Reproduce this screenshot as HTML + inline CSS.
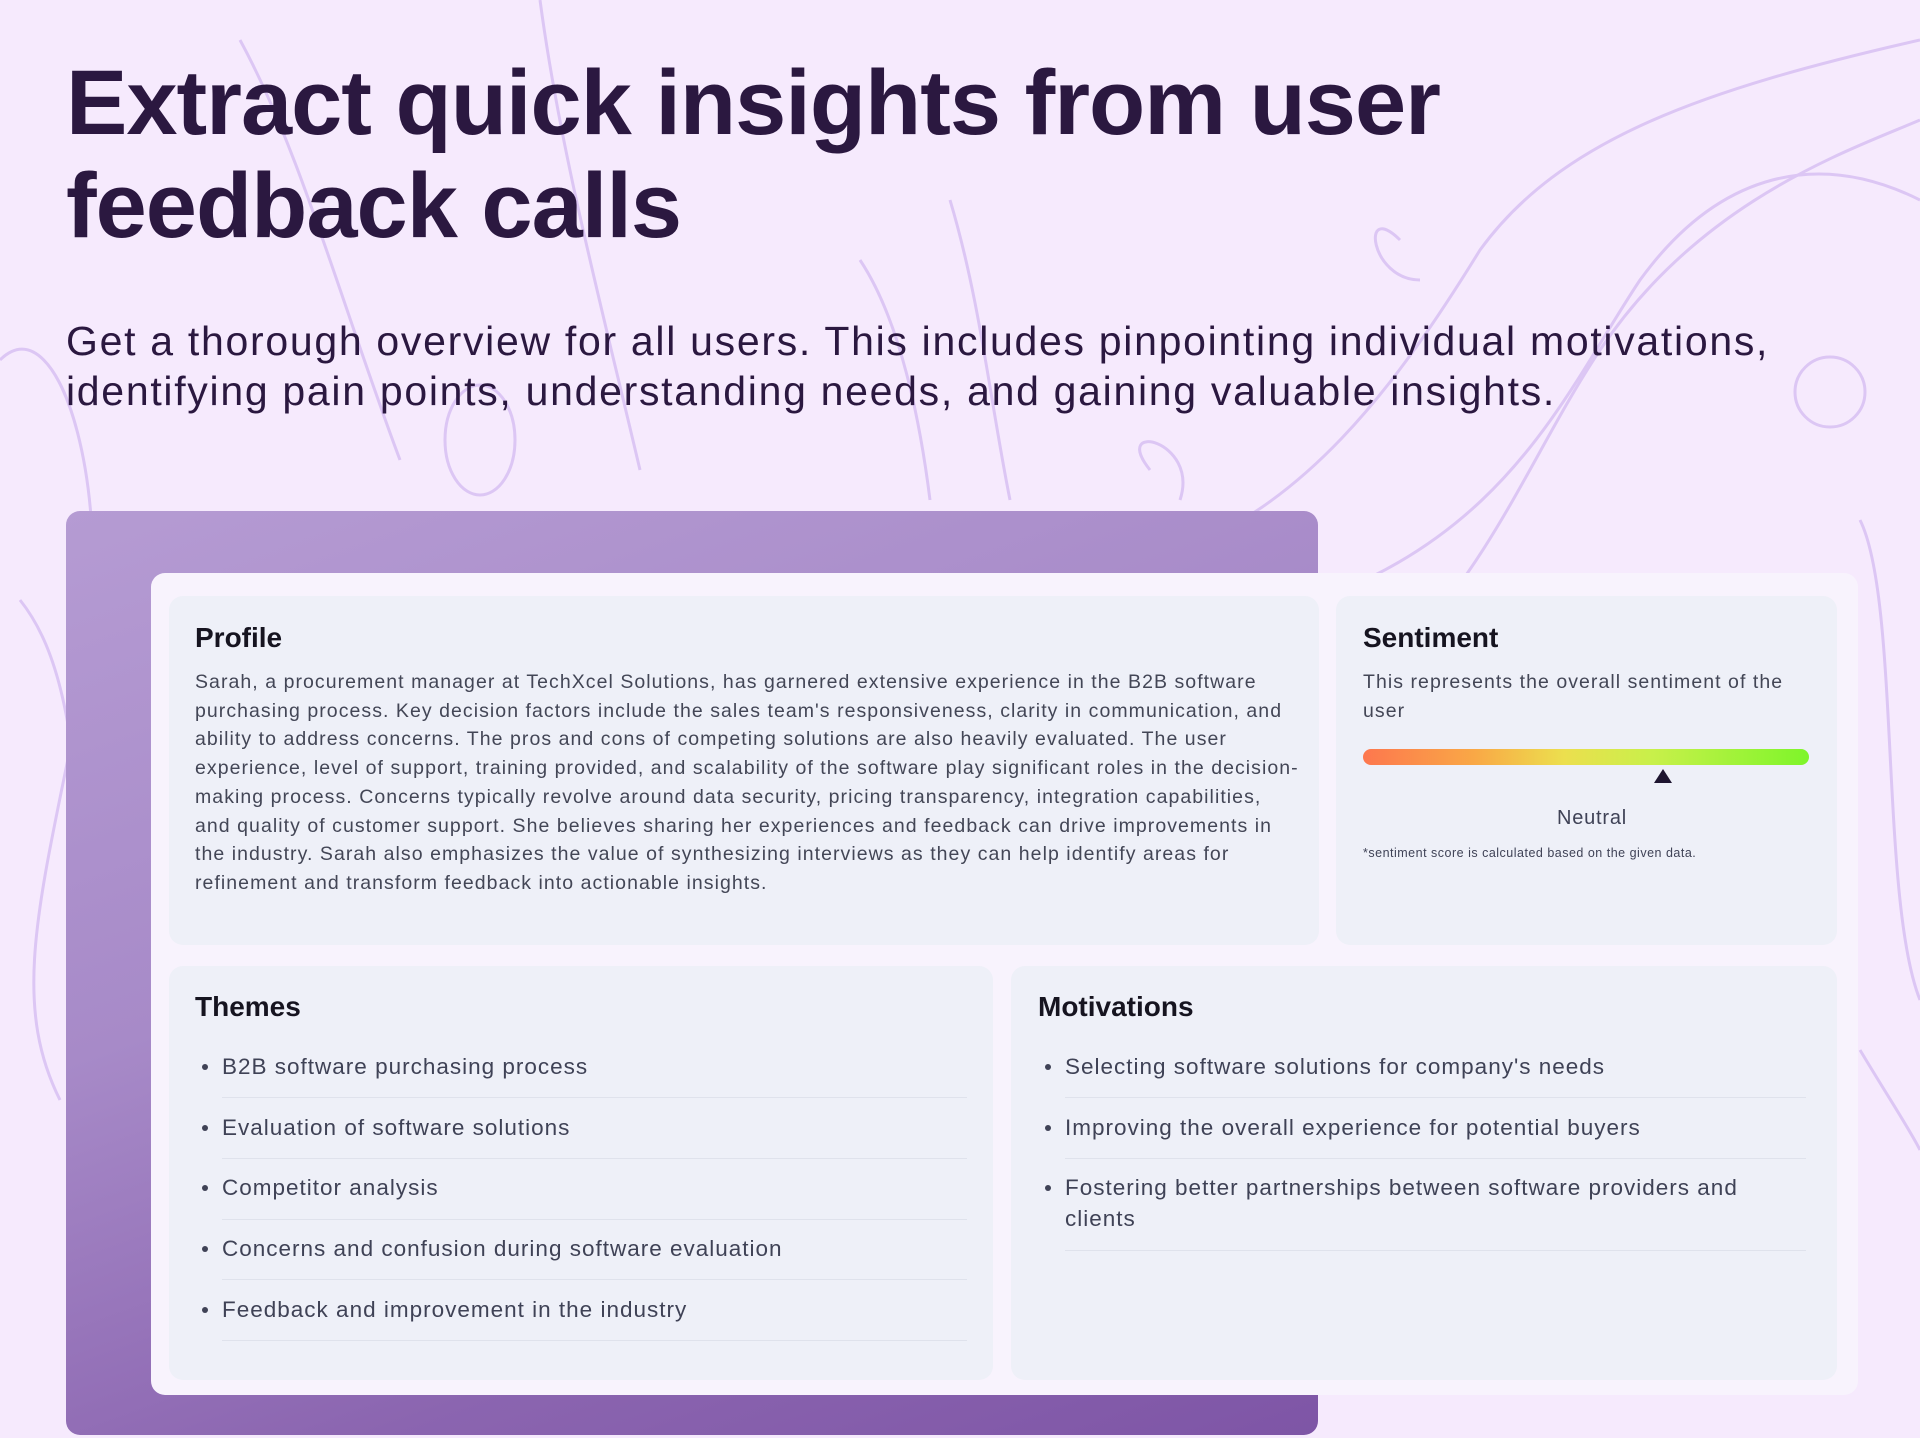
<!DOCTYPE html>
<html><head><meta charset="utf-8"><style>
*{margin:0;padding:0;box-sizing:border-box}
body{width:1920px;height:1438px;background:#f6eafd;font-family:"Liberation Sans",sans-serif;position:relative;overflow:hidden}
.abs{position:absolute}
h1{position:absolute;left:66px;top:52px;font-size:92px;line-height:103px;font-weight:bold;color:#2b1840;letter-spacing:-1px}
.sub{left:66px;top:316px;font-size:41px;line-height:50px;color:#2b1840;white-space:nowrap;letter-spacing:1.7px}
.pbox{left:66px;top:511px;width:1252px;height:924px;border-radius:14px;background:linear-gradient(160deg,#b59bd3 0%,#a78ac8 40%,#8b65b0 75%,#7e55a6 100%)}
.card{left:151px;top:573px;width:1707px;height:822px;border-radius:14px;background:#f8f3fd}
.panel{background:#eef0f8;border-radius:14px;position:absolute}
.h{position:absolute;font-size:28px;font-weight:bold;color:#161420}
.body{font-size:19.5px;line-height:28.7px;color:#434656;white-space:nowrap;letter-spacing:1.05px}
.item{position:absolute;font-size:22.5px;color:#3f4256;line-height:31px;white-space:nowrap;letter-spacing:1px}
.item:before{content:"";position:absolute;left:-20px;top:13px;width:6px;height:6px;border-radius:50%;background:#3f4256}
.sep{position:absolute;height:1px;background:#dfe2ec}
</style></head><body>
<svg class="abs" style="left:0;top:0" width="1920" height="1438" fill="none" stroke="#dcc6f4" stroke-width="3">
<path d="M1200 760 C1450 700 1500 500 1600 350 C1700 200 1850 150 1920 120"/>
<path d="M1150 560 C1300 520 1400 380 1480 250 C1560 140 1700 90 1920 40"/>
<path d="M1250 620 C1500 560 1560 400 1640 280 C1720 170 1820 150 1920 200"/>
<circle cx="1830" cy="392" r="35"/>
<path d="M1400 240 C1360 200 1370 280 1420 280"/>
<path d="M1150 470 C1110 420 1200 440 1180 500"/>
<path d="M0 360 C60 300 120 500 80 700 C40 900 10 1000 60 1100"/>
<path d="M20 600 C100 700 60 900 140 1100"/>
<path d="M1860 520 C1900 600 1880 900 1920 1000"/>
<path d="M1860 1050 C1890 1100 1910 1130 1920 1150"/>
<path d="M240 40 C300 150 340 300 400 460"/>
<path d="M540 0 C560 150 600 300 640 470"/>
<path d="M950 200 C980 300 990 400 1010 500"/>
<path d="M860 260 C900 320 920 420 930 500"/>
<ellipse cx="480" cy="440" rx="35" ry="55"/>
</svg>
<h1>Extract quick insights from user<br>feedback calls</h1>
<div class="abs sub">Get a thorough overview for all users. This includes pinpointing individual motivations,<br>identifying pain points, understanding needs, and gaining valuable insights.</div>
<div class="abs pbox"></div>
<div class="abs card"></div>

<div class="panel" style="left:169px;top:596px;width:1150px;height:349px"></div>
<div class="h" style="left:195px;top:622px">Profile</div>
<div class="abs body" style="left:195px;top:668px">Sarah, a procurement manager at TechXcel Solutions, has garnered extensive experience in the B2B software<br>purchasing process. Key decision factors include the sales team's responsiveness, clarity in communication, and<br>ability to address concerns. The pros and cons of competing solutions are also heavily evaluated. The user<br>experience, level of support, training provided, and scalability of the software play significant roles in the decision-<br>making process. Concerns typically revolve around data security, pricing transparency, integration capabilities,<br>and quality of customer support. She believes sharing her experiences and feedback can drive improvements in<br>the industry. Sarah also emphasizes the value of synthesizing interviews as they can help identify areas for<br>refinement and transform feedback into actionable insights.</div>

<div class="panel" style="left:1336px;top:596px;width:501px;height:349px"></div>
<div class="h" style="left:1363px;top:622px">Sentiment</div>
<div class="abs body" style="left:1363px;top:668px">This represents the overall sentiment of the<br>user</div>
<div class="abs" style="left:1363px;top:749px;width:446px;height:16px;border-radius:8px;background:linear-gradient(90deg,#fd774e 0%,#f9a846 25%,#ecdf4e 45%,#c8f04a 65%,#7ef52a 100%)"></div>
<div class="abs" style="left:1654px;top:769px;width:0;height:0;border-left:9px solid transparent;border-right:9px solid transparent;border-bottom:14px solid #1e1530"></div>
<div class="abs" style="left:1492px;top:807px;width:200px;text-align:center;font-size:20px;color:#3f4256;letter-spacing:0.8px">Neutral</div>
<div class="abs" style="left:1363px;top:846px;font-size:12.5px;color:#3f4256;letter-spacing:0.5px">*sentiment score is calculated based on the given data.</div>

<div class="panel" style="left:169px;top:966px;width:824px;height:414px"></div>
<div class="h" style="left:195px;top:991px">Themes</div>
<div class="item" style="left:222px;top:1051px">B2B software purchasing process</div>
<div class="sep" style="left:222px;top:1097px;width:745px"></div>
<div class="item" style="left:222px;top:1112px">Evaluation of software solutions</div>
<div class="sep" style="left:222px;top:1158px;width:745px"></div>
<div class="item" style="left:222px;top:1172px">Competitor analysis</div>
<div class="sep" style="left:222px;top:1219px;width:745px"></div>
<div class="item" style="left:222px;top:1233px">Concerns and confusion during software evaluation</div>
<div class="sep" style="left:222px;top:1279px;width:745px"></div>
<div class="item" style="left:222px;top:1294px">Feedback and improvement in the industry</div>
<div class="sep" style="left:222px;top:1340px;width:745px"></div>

<div class="panel" style="left:1011px;top:966px;width:826px;height:414px"></div>
<div class="h" style="left:1038px;top:991px">Motivations</div>
<div class="item" style="left:1065px;top:1051px">Selecting software solutions for company's needs</div>
<div class="sep" style="left:1065px;top:1097px;width:741px"></div>
<div class="item" style="left:1065px;top:1112px">Improving the overall experience for potential buyers</div>
<div class="sep" style="left:1065px;top:1158px;width:741px"></div>
<div class="item" style="left:1065px;top:1172px">Fostering better partnerships between software providers and<br>clients</div>
<div class="sep" style="left:1065px;top:1250px;width:741px"></div>
</body></html>
